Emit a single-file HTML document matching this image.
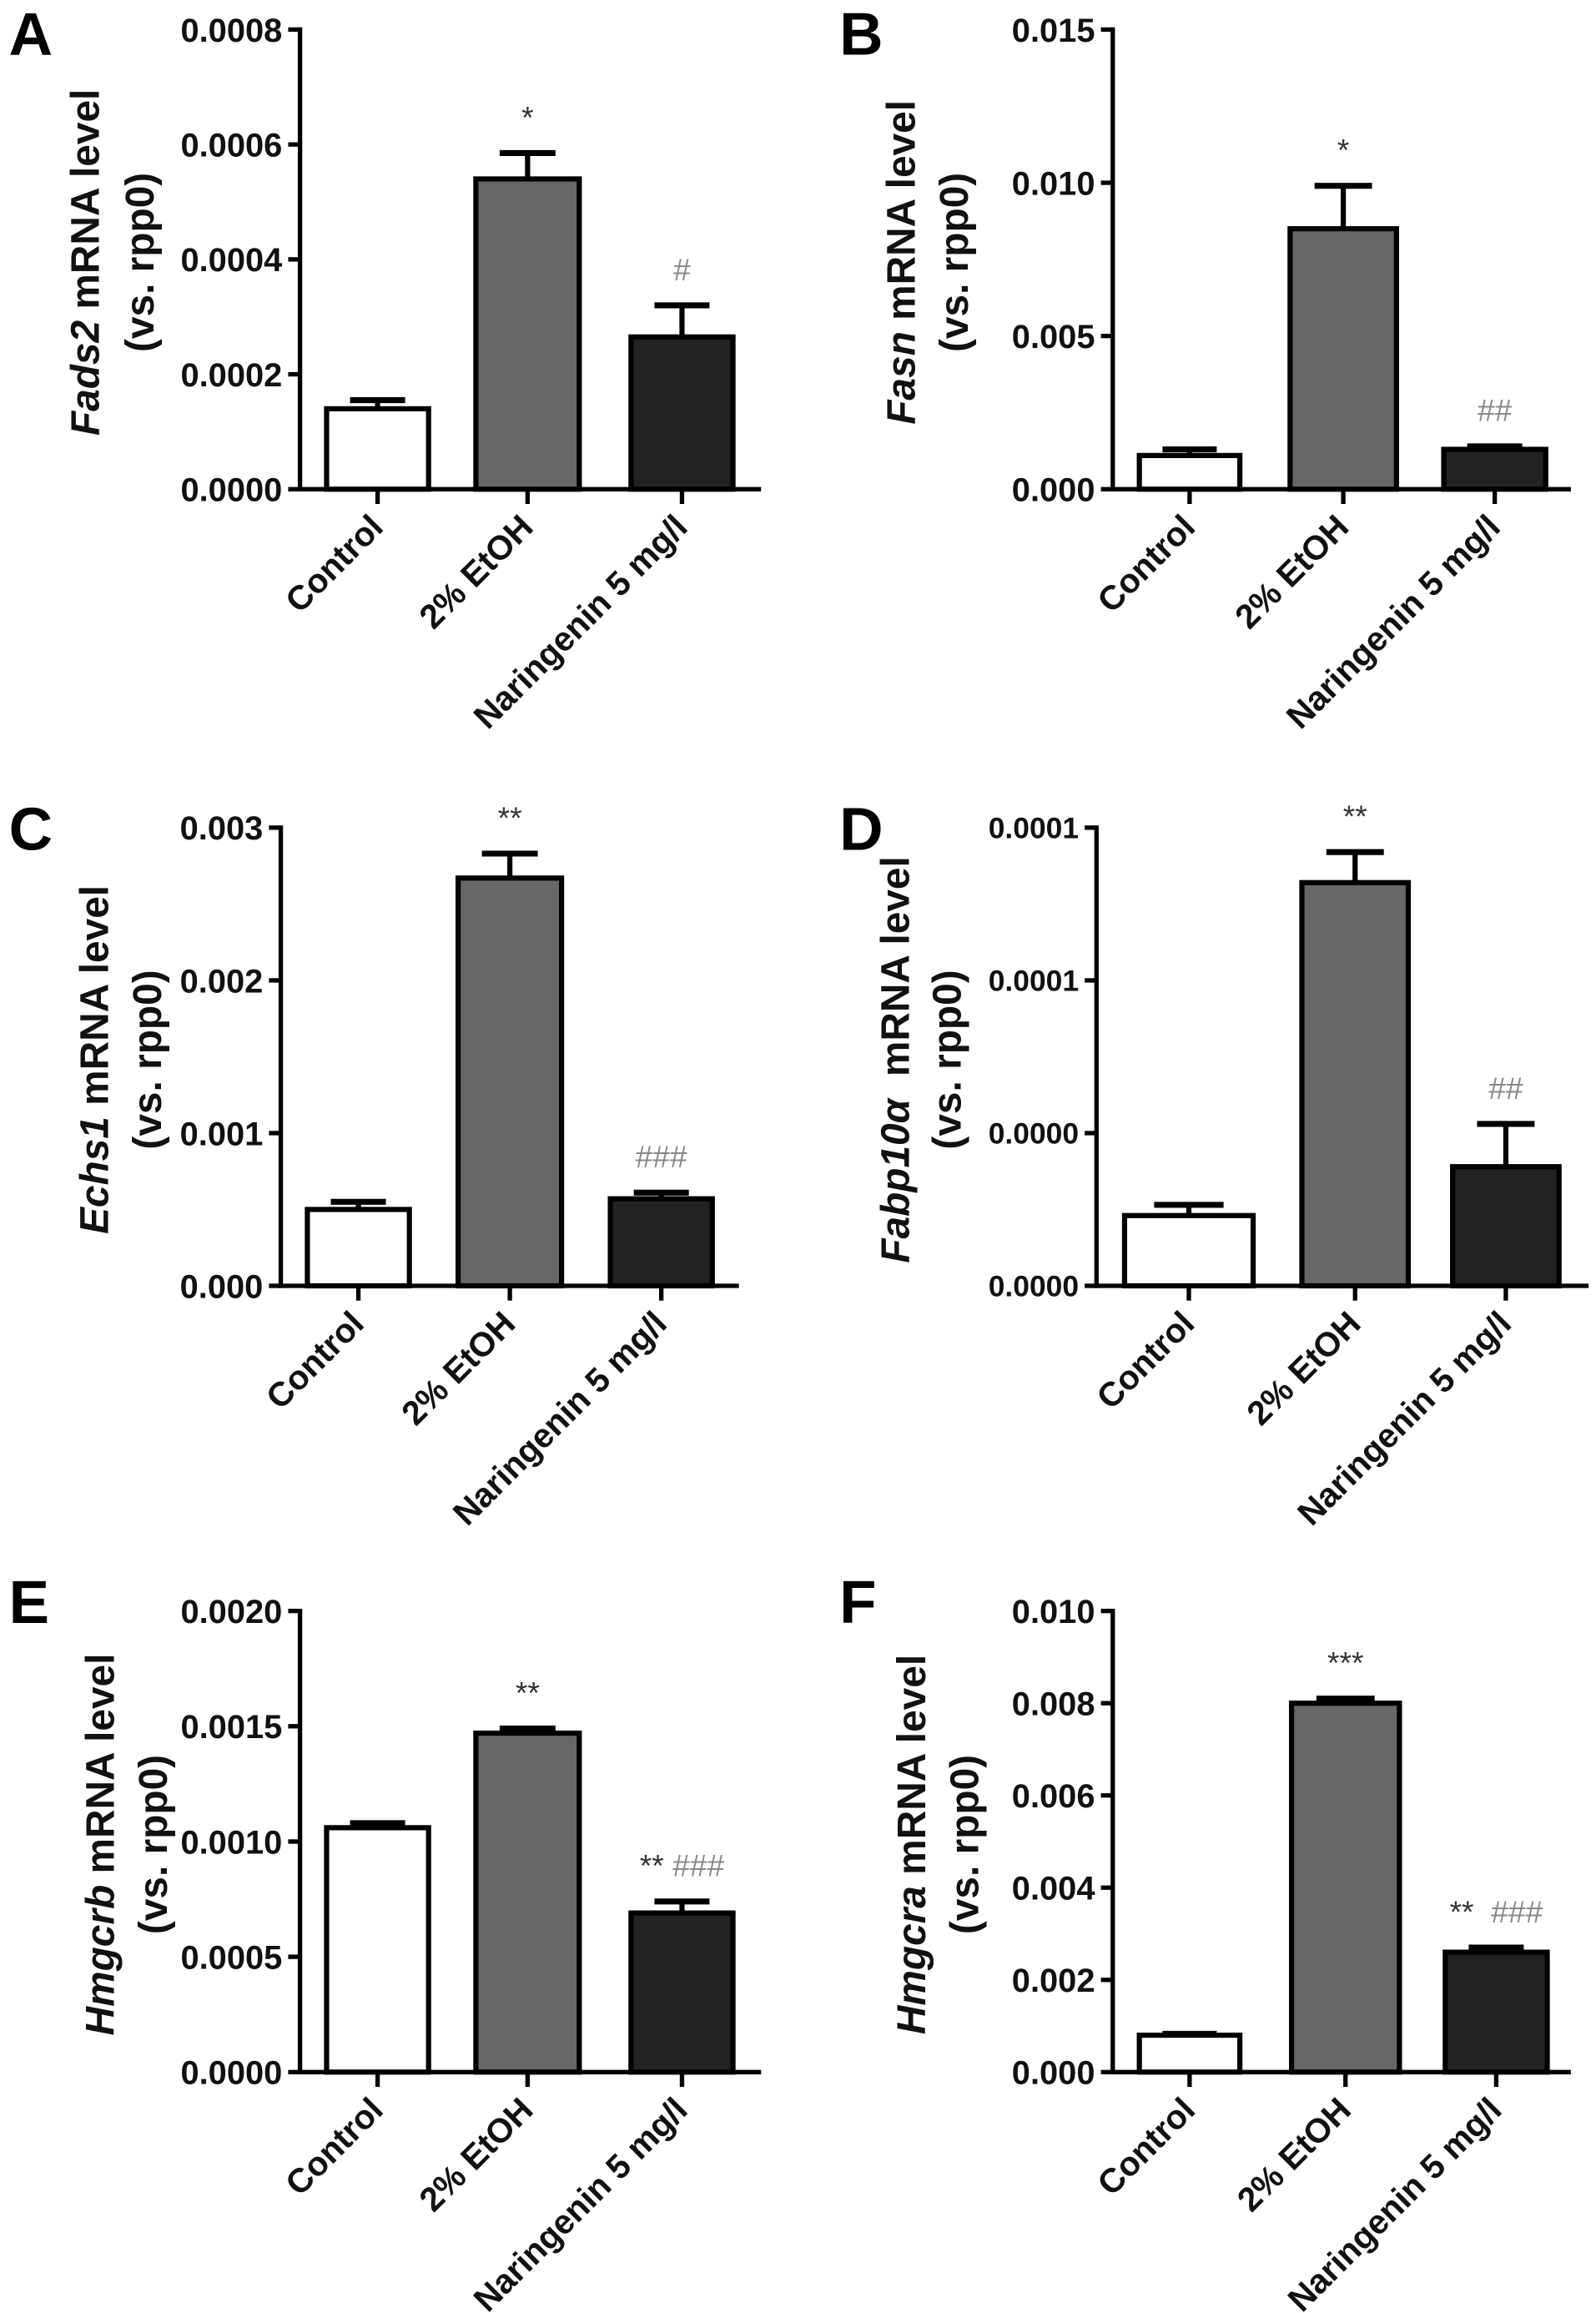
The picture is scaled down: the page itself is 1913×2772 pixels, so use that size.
<!DOCTYPE html>
<html><head><meta charset="utf-8"><style>
html,body{margin:0;padding:0;background:#fff;}
svg{display:block;}
text{font-family:"Liberation Sans",Arial,sans-serif;}
</style></head>
<body>
<svg id="fig" width="1913" height="2772" viewBox="0 0 1080 1565" xmlns="http://www.w3.org/2000/svg"></svg>
<script>
const categories = ["Control", "2% EtOH", "Naringenin 5 mg/l"];
const fills = ["#ffffff", "#676767", "#222222"];
// panel A Fads2
const valuesA = [0.00014, 0.00054, 0.000265];
const errA = [0.000015, 0.000045, 0.000055];
const ticksA = ["0.0000", "0.0002", "0.0004", "0.0006", "0.0008"];
const annotA = ["", "*", "#"];
// panel B Fasn
const valuesB = [0.0011, 0.0085, 0.0013];
const errB = [0.0002, 0.0014, 0.0001];
const ticksB = ["0.000", "0.005", "0.010", "0.015"];
const annotB = ["", "*", "##"];
// panel C Echs1
const valuesC = [0.0005, 0.00267, 0.00057];
const errC = [0.00005, 0.00016, 0.00004];
const ticksC = ["0.000", "0.001", "0.002", "0.003"];
const annotC = ["", "**", "###"];
// panel D Fabp10a
const valuesD = [0.000023, 0.000132, 0.000039];
const errD = [0.0000035, 0.00001, 0.000014];
const ticksD = ["0.0000", "0.0000", "0.0001", "0.0001"];
const annotD = ["", "**", "##"];
// panel E Hmgcrb
const valuesE = [0.00106, 0.00147, 0.00069];
const errE = [0.00002, 0.00002, 0.00005];
const ticksE = ["0.0000", "0.0005", "0.0010", "0.0015", "0.0020"];
const annotE = ["", "**", "** ###"];
// panel F Hmgcra
const valuesF = [0.0008, 0.0080, 0.0026];
const errF = [0.00003, 0.0001, 0.0001];
const ticksF = ["0.000", "0.002", "0.004", "0.006", "0.008", "0.010"];
const annotF = ["", "***", "**  ###"];

const NS = "http://www.w3.org/2000/svg";
const svg = document.getElementById("fig");
function mk(tag, attrs, parent) {
  const e = document.createElementNS(NS, tag);
  for (const k in attrs) e.setAttribute(k, attrs[k]);
  (parent || svg).appendChild(e);
  return e;
}

const panels = [
  {id:"a", letter:"A", lx:6, ly:37, ax:203, top:20, zero:331, end:515, max:0.0008, vals:valuesA, errs:errA, ticks:ticksA, ann:annotA, bars:[[221,290],[322,392],[427,496]], gene:"Fads2", tx:[58,95], tf:22.5},
  {id:"b", letter:"B", lx:568, ly:37, ax:753, top:20, zero:331, end:1063, max:0.015, vals:valuesB, errs:errB, ticks:ticksB, ann:annotB, bars:[[771,839],[873,945],[977,1046]], gene:"Fasn", tx:[610,646], tf:22.5},
  {id:"c", letter:"C", lx:6, ly:575, ax:190, top:560, zero:870, end:500, max:0.003, vals:valuesC, errs:errC, ticks:ticksC, ann:annotC, bars:[[208,277],[310,380],[413,482]], gene:"Echs1", tx:[64,100], tf:22.5},
  {id:"d", letter:"D", lx:568, ly:575, ax:742, top:560, zero:870, end:1075, max:0.00015, vals:valuesD, errs:errD, ticks:ticksD, ann:annotD, bars:[[761,848],[881,953],[983,1055]], gene:"Fabp10α", gap:true, tx:[606,641], tf:20},
  {id:"e", letter:"E", lx:6, ly:1098, ax:203, top:1090, zero:1402, end:515, max:0.002, vals:valuesE, errs:errE, ticks:ticksE, ann:annotE, bars:[[221,290],[322,392],[427,496]], gene:"Hmgcrb", tx:[68,104], tf:22.5},
  {id:"f", letter:"F", lx:568, ly:1098, ax:753, top:1090, zero:1402, end:1063, max:0.010, vals:valuesF, errs:errF, ticks:ticksF, ann:annotF, bars:[[771,839],[874,947],[978,1047]], gene:"Hmgcra", tx:[617,653], tf:22.5}
];

panels.forEach(p => {
  const g = mk("g", {});
  
  
  const y = v => p.zero - v / p.max * (p.zero - p.top);

  const L = mk("text", {x:p.lx, y:p.ly, "font-size":41, "font-weight":"bold", fill:"#000"}, g);
  L.textContent = p.letter;
  
  

  const n = p.ticks.length - 1;
  p.ticks.forEach((t, i) => {
    const ty = y(p.max * i / n);
    mk("line", {x1:p.ax-8, x2:p.ax, y1:ty, y2:ty, stroke:"#000", "stroke-width":3}, g);
    const tt = mk("text", {x:p.ax-12, y:ty+p.tf*0.36, "font-size":p.tf, "font-weight":"bold", "text-anchor":"end", fill:"#111"}, g);
    tt.textContent = t;
    
    
  });

  p.vals.forEach((v, i) => {
    const [x0, x1] = p.bars[i];
    const cx = (x0 + x1) / 2, w = x1 - x0;
    const ey = y(v + p.errs[i]);
    mk("line", {x1:cx, x2:cx, y1:y(v), y2:ey, stroke:"#000", "stroke-width":3.5}, g);
    mk("line", {x1:cx - w*0.27, x2:cx + w*0.27, y1:ey, y2:ey, stroke:"#000", "stroke-width":4}, g);
    const r = mk("rect", {x:x0, y:y(v), width:w, height:p.zero - y(v), fill:fills[i], stroke:"#000", "stroke-width":3.5}, g);
    
    
    mk("line", {x1:cx, x2:cx, y1:p.zero, y2:p.zero+10, stroke:"#000", "stroke-width":3}, g);
    const xl = mk("text", {x:0, y:0, "font-size":23, "font-weight":"bold", "text-anchor":"end", fill:"#111",
      transform:"translate(" + (cx + 5) + "," + (p.zero + 27) + ") rotate(-45)"}, g);
    xl.textContent = categories[i];
    
    
    if (p.ann[i]) {
      const parts = p.ann[i].split(/(\s+)/);
      const a = mk("text", {x:cx, y:ey - 17, "font-size":21, "text-anchor":"middle", fill:"#333"}, g);
      parts.forEach(s => {
        const ts = mk("tspan", {fill: s.indexOf("#") >= 0 ? "#888" : "#333"}, a);
        ts.textContent = s.replace(/ /g, "\u00a0");
      });
      
      
    }
  });

  mk("line", {x1:p.ax, x2:p.ax, y1:p.top-1.5, y2:p.zero+1.5, stroke:"#000", "stroke-width":3}, g);
  mk("line", {x1:p.ax, x2:p.end, y1:p.zero, y2:p.zero, stroke:"#000", "stroke-width":3}, g);

  const cy = (p.top + p.zero) / 2 + 2;
  const t1 = mk("text", {x:0, y:0, "font-size":27, "font-weight":"bold", "text-anchor":"middle", fill:"#111",
    transform:"translate(" + (p.tx[0] + 9) + "," + cy + ") rotate(-90)"}, g);
  const gi = mk("tspan", {"font-style":"italic"}, t1);
  gi.textContent = p.gene;
  const rest = mk("tspan", {}, t1);
  rest.textContent = (p.gap ? "\u00a0\u00a0" : " ") + "mRNA level";
  
  
  const t2 = mk("text", {x:0, y:0, "font-size":27, "font-weight":"bold", "text-anchor":"middle", fill:"#111",
    transform:"translate(" + (p.tx[1] + 9) + "," + cy + ") rotate(-90)"}, g);
  t2.textContent = "(vs. rpp0)";
  
  
});
</script>
</body></html>
